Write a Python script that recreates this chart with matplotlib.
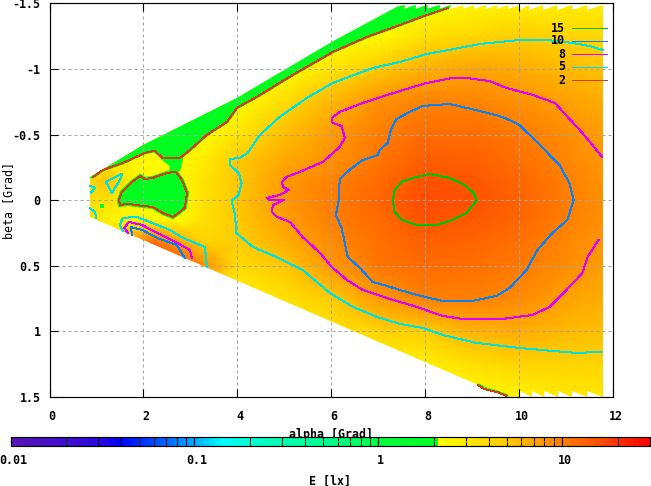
import matplotlib
matplotlib.use("Agg")
import matplotlib.pyplot as plt
import numpy as np
from matplotlib.colors import LinearSegmentedColormap, LogNorm
from matplotlib.cm import ScalarMappable
from matplotlib.patches import Polygon
from matplotlib.ticker import FixedLocator, NullFormatter
from matplotlib.transforms import ScaledTranslation

plt.rcParams['font.family'] = ['DejaVu Sans Mono']
plt.rcParams['font.size'] = 8.4
plt.rcParams['font.weight'] = 'bold'

# Illuminance field, E [lx]
grid_alpha = [0.75, 1.25, 1.75, 2.25, 2.75, 3.25, 4, 5, 6, 7, 8, 9, 10, 11, 12]
grid_beta = [-1.5, -1.25, -1, -0.75, -0.5, -0.3, -0.15, 0, 0.15, 0.3, 0.5, 0.75, 1, 1.25, 1.5]
grid_E = [
    [2.2, 2.2, 2.2, 2.2, 2.2, 2.2, 2.2, 2.2, 2.2, 2.2, 2.2, 2.4, 2.6, 2.8, 2.8],
    [2.2, 2.2, 2.2, 2.2, 2.2, 2.2, 2.2, 2.2, 2.2, 2.3, 3.4, 4.0, 4.6, 4.3, 3.9],
    [2.2, 2.2, 2.2, 2.2, 2.2, 2.2, 2.2, 2.2, 3.2, 4.9, 6.4, 6.9, 6.6, 5.8, 5.3],
    [2.2, 2.2, 2.2, 2.2, 2.2, 2.2, 2.2, 3.6, 6.0, 8.4, 9.6, 9.6, 8.5, 7.4, 6.4],
    [2.2, 2.2, 2.2, 2.2, 2.2, 2.2, 3.2, 5.7, 7.7, 10.2, 11.8, 12.0, 10.6, 8.8, 7.2],
    [2.2, 2.6, 2.5, 2.3, 2.3, 2.8, 4.9, 6.8, 8.4, 10.7, 13.8, 13.6, 11.6, 9.3, 7.6],
    [3.6, 5.5, 2.6, 2.2, 2.4, 3.2, 5.2, 7.6, 9.6, 12.0, 15.5, 15.0, 12.7, 9.9, 8.0],
    [3.4, 3.4, 2.3, 2.2, 2.3, 3.3, 5.1, 8.0, 10.1, 12.6, 16.5, 15.4, 13.2, 10.2, 8.2],
    [4.4, 2.6, 2.5, 2.4, 2.3, 3.4, 5.0, 7.5, 9.8, 12.0, 15.2, 14.6, 12.6, 10.0, 8.1],
    [4.0, 2.8, 7.5, 11.0, 6.5, 4.0, 4.6, 6.6, 9.0, 11.4, 13.6, 13.2, 11.6, 9.3, 7.8],
    [4.0, 4.0, 18.0, 22.0, 18.0, 9.0, 3.8, 5.1, 8.0, 10.8, 11.9, 11.7, 10.5, 8.6, 7.2],
    [2.2, 2.2, 2.2, 2.2, 2.2, 2.4, 2.6, 3.4, 4.8, 7.8, 9.9, 10.0, 8.9, 7.3, 6.4],
    [2.2, 2.2, 2.2, 2.2, 2.2, 2.2, 2.3, 2.6, 3.2, 4.3, 4.7, 6.2, 6.5, 5.8, 5.4],
    [2.2, 2.2, 2.2, 2.2, 2.2, 2.2, 2.2, 2.2, 2.4, 2.5, 2.7, 3.5, 4.3, 4.3, 4.1],
    [2.2, 2.2, 2.2, 2.2, 2.2, 2.2, 2.2, 2.2, 2.2, 2.2, 2.2, 2.3, 2.6, 3.0, 3.1],
]

# Outline of the covered area, with the stepped ends of the scan
edge_alpha = [0.86, 1.99, 3.99, 6.01, 7.39,
              7.56, 7.56, 7.80, 7.80, 8.05, 8.05, 8.31, 8.31, 8.56, 8.56, 8.80, 8.80, 9.05, 9.05,
              9.29, 9.29, 9.52, 9.52, 9.76, 9.76, 10.01, 10.01, 10.22, 10.22, 10.50, 10.50,
              10.80, 10.80, 11.12, 11.12, 11.44, 11.44, 11.78,
              11.78, 11.44, 11.44, 11.12, 11.12, 10.82, 10.82, 10.52, 10.52, 10.27, 10.27, 10.01, 10.01,
              9.73, 0.86]
edge_beta = [-0.176, -0.421, -0.78, -1.207, -1.473,
             -1.49, -1.46, -1.49, -1.46, -1.49, -1.46, -1.49, -1.46, -1.49, -1.46, -1.49, -1.46, -1.49, -1.46,
             -1.49, -1.46, -1.49, -1.46, -1.49, -1.46, -1.49, -1.45, -1.49, -1.45, -1.49, -1.45,
             -1.49, -1.45, -1.49, -1.45, -1.49, -1.45, -1.49,
             1.499, 1.453, 1.499, 1.453, 1.499, 1.453, 1.499, 1.453, 1.499, 1.453, 1.499, 1.453, 1.499,
             1.499, 0.128]

# Contour 2 (upper edge), green lies beyond it
c2_top_alpha = [8.48, 8.03, 7.46, 6.76, 6.03, 5.18, 4.41, 3.99, 3.78, 3.35, 2.99, 2.78, 2.41, 2.24, 2.03, 1.56, 1.14, 0.93]
c2_top_beta = [-1.466, -1.412, -1.336, -1.245, -1.13, -0.955, -0.787, -0.704, -0.597, -0.498, -0.383, -0.322, -0.322, -0.376, -0.361, -0.284, -0.231, -0.178]
# Contour 2 round the green blob
c2_blob_alpha = [1.48, 1.54, 1.76, 1.93, 2.03, 2.20, 2.50, 2.69, 2.82, 2.93, 2.88, 2.63, 2.41, 2.20, 1.99, 1.67, 1.50, 1.48]
c2_blob_beta = [0, -0.063, -0.14, -0.185, -0.162, -0.17, -0.208, -0.216, -0.155, -0.056, 0.059, 0.128, 0.097, 0.051, 0.043, 0.028, 0.036, 0]
# Contour 2 at the lower edge
c2_low_alpha = [9.12, 9.27, 9.52, 9.73]
c2_low_beta = [1.408, 1.44, 1.461, 1.49]
# Neck between the upper green band and the blob
neck_alpha = [2.35, 2.85, 2.82, 2.78, 2.55, 2.56]
neck_beta = [-0.32, -0.32, -0.28, -0.22, -0.22, -0.26]

c5_main_alpha = [11.78, 11.50, 11.14, 10.59, 10.01, 9.59, 9.16, 8.73, 8.03, 7.46, 6.88, 6.03, 5.48, 4.90, 4.48, 4.22, 4.05, 3.84, 3.84,
                 4.03, 4.09, 4.03, 3.88, 3.95, 3.98, 4.33, 4.83, 5.39, 5.97, 6.46, 6.97, 7.46, 7.95, 8.37, 9.10, 10.01, 10.71, 11.22, 11.76]
c5_main_beta = [-1.146, -1.176, -1.199, -1.222, -1.222, -1.207, -1.191, -1.161, -1.115, -1.054, -1.008, -0.894, -0.78, -0.635, -0.498, -0.361, -0.322, -0.315, -0.269,
                -0.208, -0.132, -0.04, 0.003, 0.112, 0.249, 0.356, 0.432, 0.531, 0.707, 0.813, 0.889, 0.943, 0.973, 1.027, 1.088, 1.126, 1.149, 1.164, 1.156]
c5_loop_alpha = [1.20, 1.54, 1.50, 1.33, 1.20]
c5_loop_beta = [-0.14, -0.2, -0.155, -0.056, -0.14]
c5_tip1_alpha = [0.86, 0.97, 0.88]
c5_tip1_beta = [-0.109, -0.094, -0.056]
c5_tip2_alpha = [0.86, 0.97, 0.99]
c5_tip2_beta = [0.059, 0.09, 0.136]
c5_low_alpha = [1.56, 1.50, 1.56, 1.86, 2.29, 2.56, 2.84, 3.31, 3.35]
c5_low_beta = [0.234, 0.188, 0.135, 0.127, 0.188, 0.226, 0.287, 0.356, 0.508]

c8_main_alpha = [11.77, 11.35, 10.76, 10.29, 9.73, 9.37, 8.88, 8.58, 8.03, 7.46, 6.67, 6.18, 6.01, 6.03, 6.22, 6.29, 6.18, 5.82, 5.33, 5.05, 4.95,
                 4.97, 5.10, 4.90, 4.63, 4.69, 4.99, 4.76, 4.73, 4.84, 5.12, 5.39, 5.76, 6.01, 6.33, 6.67, 7.18, 7.82, 8.37, 8.80, 9.65,
                 10.29, 10.65, 11.07, 11.35, 11.46, 11.69]
c8_main_beta = [-0.33, -0.513, -0.742, -0.803, -0.856, -0.909, -0.932, -0.932, -0.894, -0.833, -0.742, -0.673, -0.627, -0.589, -0.566, -0.475, -0.406, -0.292, -0.216, -0.178, -0.14,
                -0.101, -0.079, -0.04, -0.018, -0.002, -0.002, 0.036, 0.089, 0.127, 0.165, 0.28, 0.402, 0.508, 0.607, 0.684, 0.745, 0.813, 0.882, 0.905, 0.905,
                0.874, 0.813, 0.661, 0.554, 0.432, 0.303]
c8_low_alpha = [1.67, 1.59, 1.69, 1.97, 2.29, 2.56, 2.99, 3.03]
c8_low_beta = [0.249, 0.211, 0.165, 0.188, 0.249, 0.295, 0.379, 0.44]

c10_main_alpha = [11.16, 11.07, 10.86, 10.44, 10.01, 9.65, 9.16, 8.52, 7.95, 7.67, 7.39, 7.27, 7.20, 7.03, 6.99, 6.67, 6.39, 6.18, 6.16,
                  6.10, 6.22, 6.29, 6.35, 6.61, 6.88, 7.18, 7.82, 8.37, 9.01, 9.52, 9.80, 10.16, 10.39, 10.71, 11.03, 11.16]
c10_main_beta = [-0.002, -0.132, -0.269, -0.422, -0.574, -0.635, -0.681, -0.734, -0.719, -0.673, -0.62, -0.536, -0.437, -0.383, -0.345, -0.307, -0.231, -0.162, -0.002,
                 0.112, 0.211, 0.326, 0.432, 0.516, 0.623, 0.653, 0.722, 0.768, 0.768, 0.729, 0.668, 0.531, 0.379, 0.249, 0.15, -0.002]
c10_low_alpha = [1.76, 1.73, 1.97, 2.29, 2.71, 2.88]
c10_low_beta = [0.264, 0.204, 0.226, 0.287, 0.341, 0.44]

c15_alpha = [7.31, 7.35, 7.50, 7.82, 8.10, 8.52, 8.84, 9.03, 9.10, 8.88, 8.58, 8.24, 7.82, 7.50, 7.35, 7.31]
c15_beta = [0, -0.079, -0.14, -0.178, -0.2, -0.17, -0.117, -0.056, 0, 0.097, 0.15, 0.188, 0.188, 0.15, 0.089, 0]

legend_labels = ['15', '10', '8', '5', '2']
legend_colors = ['#00c000', '#1080f0', '#e000ff', '#00e0e0', '#d04010']

x_ticks = [0, 2, 4, 6, 8, 10, 12]
y_ticks = [-1.5, -1, -0.5, 0, 0.5, 1, 1.5]
y_tick_labels = ['-1.5', '-1', '-0.5', '0', '0.5', '1', '1.5']
bar_ticks = [0.01, 0.1, 1, 10]
bar_tick_labels = ['0.01', '0.1', '1', '10']

# gnuplot style palette, jumps from green to yellow near 2.2 lx
palette = LinearSegmentedColormap.from_list('pal', [
    (0.0, '#5a14b4'), (0.14, '#2a0ae0'), (0.17, '#0000ff'), (0.2875, '#00a8ff'),
    (0.33, '#00ffff'), (0.39, '#00ffc8'), (0.516, '#00ff80'), (0.575, '#00ff40'),
    (0.669, '#00ff20'), (0.670, '#ffff00'), (0.78, '#ffc800'), (0.8625, '#ff8000'),
    (0.93, '#ff4800'), (1.0, '#ff0000')], N=256)
norm = LogNorm(0.01, 30)
GREEN = '#00ff20'

fig = plt.figure(figsize=(6.51, 4.86), dpi=100)
ax = fig.add_axes([49.5 / 651, 1 - 397 / 486, (613 - 49.5) / 651, (397 - 3.5) / 486])

mesh = ax.pcolormesh(grid_alpha, grid_beta, grid_E, cmap=palette, norm=norm, shading='gouraud', zorder=1)
mesh.set_clip_path(Polygon(np.column_stack([edge_alpha, edge_beta]), transform=ax.transData))

# green parts (below the yellow jump of the palette)
top_band = ax.fill(c2_top_alpha + [0.8, 0.8, 8.7], c2_top_beta + [-0.178, -1.6, -1.6],
                   fc=GREEN, ec=GREEN, lw=2.2, zorder=2)[0]
blob = ax.fill(c2_blob_alpha, c2_blob_beta, fc=GREEN, ec=GREEN, lw=3, zorder=2)[0]
neck = ax.fill(neck_alpha, neck_beta, fc=GREEN, ec=GREEN, lw=0, zorder=2)[0]
low_band = ax.fill(c2_low_alpha + [9.73], c2_low_beta + [1.52], fc=GREEN, ec=GREEN, lw=2.5, zorder=2)[0]
ax.plot([1.11], [0.044], 's', color=GREEN, ms=2.8, mew=0, zorder=2)
for patch in (top_band, blob, neck, low_band):
    patch.set_clip_path(Polygon(np.column_stack([edge_alpha, edge_beta]), transform=ax.transData))

ax.grid(True, color='#a4a4a4', lw=0.72, ls=(0, (3, 3)), zorder=3)
ax.set_axisbelow(False)

line_kw = dict(lw=0.72, antialiased=False, zorder=4)
ax.plot(c5_main_alpha, c5_main_beta, color=legend_colors[3], **line_kw)
ax.plot(c5_loop_alpha, c5_loop_beta, color=legend_colors[3], **line_kw)
ax.plot(c5_tip1_alpha, c5_tip1_beta, color=legend_colors[3], **line_kw)
ax.plot(c5_tip2_alpha, c5_tip2_beta, color=legend_colors[3], **line_kw)
ax.plot(c5_low_alpha, c5_low_beta, color=legend_colors[3], **line_kw)
ax.plot(c8_main_alpha, c8_main_beta, color=legend_colors[2], **line_kw)
ax.plot(c8_low_alpha, c8_low_beta, color=legend_colors[2], **line_kw)
ax.plot(c10_main_alpha, c10_main_beta, color=legend_colors[1], **line_kw)
ax.plot(c10_low_alpha, c10_low_beta, color=legend_colors[1], **line_kw)
ax.plot(c15_alpha, c15_beta, color=legend_colors[0], **line_kw)
ax.plot(c2_top_alpha, c2_top_beta, color=legend_colors[4], **line_kw)
ax.plot(c2_blob_alpha, c2_blob_beta, color=legend_colors[4], **line_kw)
ax.plot(c2_low_alpha, c2_low_beta, color=legend_colors[4], **line_kw)

ax.set_xlim(0, 12)
ax.set_ylim(1.5, -1.5)
ax.set_xticks(x_ticks)
ax.set_yticks(y_ticks)
ax.set_yticklabels(y_tick_labels)
ax.tick_params(axis='x', direction='in', length=5.8, width=0.8, top=True, bottom=True, pad=9.5)
ax.tick_params(axis='y', direction='in', length=5.8, width=0.8, left=True, right=False, pad=6.5)
ax.yaxis.set_label_coords((15 - 49.5) / 563.5, 0.5)
ax.set_ylabel('beta [Grad]')
for spine in ax.spines.values():
    spine.set_linewidth(0.85)
    spine.set_zorder(6)

# tick labels sit a little right of their ticks in the original
shift = ScaledTranslation(2.5 / 100, 0, fig.dpi_scale_trans)
for lab in ax.get_xticklabels():
    lab.set_transform(lab.get_transform() + shift)

# key inside the plot, right aligned labels
for i, (name, col) in enumerate(zip(legend_labels, legend_colors)):
    y = 1 - (28 + 13 * i - 3.5) / 393.5
    ax.text((565 - 49.5) / 563.5, y, name, transform=ax.transAxes, ha='right', va='center', zorder=7)
    ax.plot([(572 - 49.5) / 563.5, (607 - 49.5) / 563.5], [y, y], transform=ax.transAxes,
            color=col, lw=0.72, antialiased=False, zorder=7)

# x label sits partly behind the colour bar, as in the original
fig.text(331 / 651, 1 - 434.5 / 486, 'alpha [Grad]', ha='center', va='center', zorder=1)

cax = fig.add_axes([10.5 / 651, 1 - 446 / 486, 639.5 / 651, 9.5 / 486])
cax.set_zorder(2)
cb = fig.colorbar(ScalarMappable(norm=norm, cmap=palette), cax=cax, orientation='horizontal')
cb.set_ticks(bar_ticks)
cb.set_ticklabels(bar_tick_labels)
cax.xaxis.set_minor_locator(FixedLocator([m * d for d in (0.01, 0.1, 1, 10) for m in range(2, 10) if m * d < 30]))
cax.xaxis.set_minor_formatter(NullFormatter())
cax.tick_params(axis='x', which='major', direction='in', length=4.5, width=0.8, top=True, bottom=True, pad=5.5)
cax.tick_params(axis='x', which='minor', direction='in', length=2.8, width=0.8, top=True, bottom=True)
cb.outline.set_linewidth(0.85)
for lab in cax.get_xticklabels():
    lab.set_transform(lab.get_transform() + shift)
fig.text(330 / 651, 1 - 481 / 486, 'E [lx]', ha='center', va='center')

fig.savefig('out.png', dpi=100)
